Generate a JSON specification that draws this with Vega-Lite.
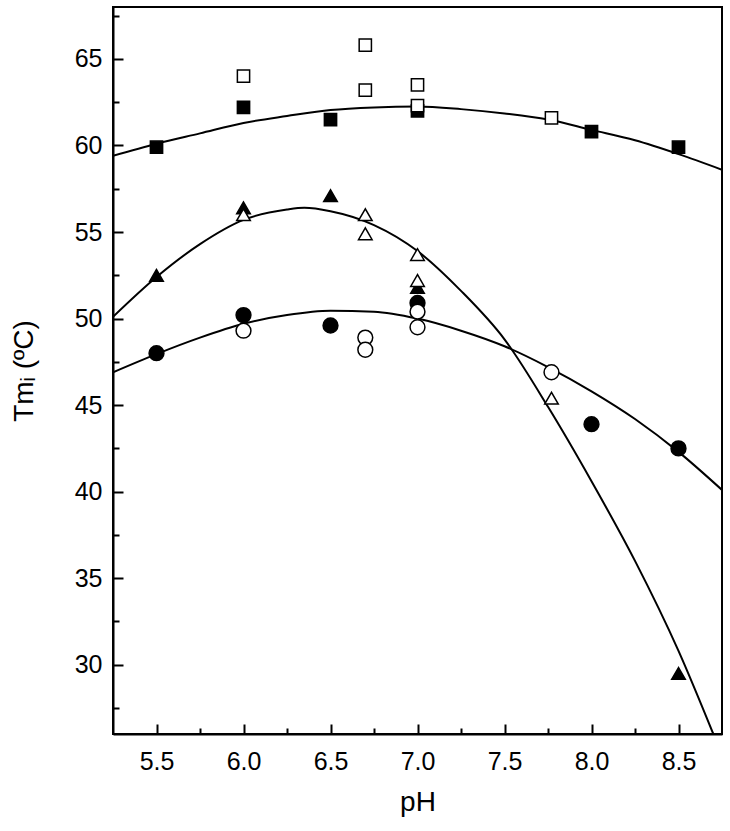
{
  "$schema": "https://vega.github.io/schema/vega-lite/v6.json",
  "width": 609,
  "height": 727,
  "autosize": "none",
  "padding": {"left": 113, "top": 7, "right": 8, "bottom": 97},
  "background": "white",
  "config": {
    "view": {"stroke": "black", "strokeWidth": 2},
    "font": "Liberation Sans",
    "axis": {"grid": false, "domainColor": "black", "domainWidth": 2, "tickColor": "black", "tickWidth": 2, "labelColor": "black", "titleColor": "black", "labelFont": "Liberation Sans", "titleFont": "Liberation Sans", "titleFontWeight": "normal"}
  },
  "datasets": {
    "points": [
      {"pH": 5.5, "Tm": 59.9, "series": "A", "state": "filled"},
      {"pH": 6.0, "Tm": 62.2, "series": "A", "state": "filled"},
      {"pH": 6.5, "Tm": 61.5, "series": "A", "state": "filled"},
      {"pH": 7.0, "Tm": 62.0, "series": "A", "state": "filled"},
      {"pH": 8.0, "Tm": 60.8, "series": "A", "state": "filled"},
      {"pH": 8.5, "Tm": 59.9, "series": "A", "state": "filled"},
      {"pH": 6.0, "Tm": 64.0, "series": "A", "state": "open"},
      {"pH": 6.7, "Tm": 65.8, "series": "A", "state": "open"},
      {"pH": 6.7, "Tm": 63.2, "series": "A", "state": "open"},
      {"pH": 7.0, "Tm": 63.5, "series": "A", "state": "open"},
      {"pH": 7.0, "Tm": 62.3, "series": "A", "state": "open"},
      {"pH": 7.77, "Tm": 61.6, "series": "A", "state": "open"},
      {"pH": 5.5, "Tm": 52.5, "series": "B", "state": "filled"},
      {"pH": 6.0, "Tm": 56.4, "series": "B", "state": "filled"},
      {"pH": 6.5, "Tm": 57.1, "series": "B", "state": "filled"},
      {"pH": 7.0, "Tm": 51.8, "series": "B", "state": "filled"},
      {"pH": 8.5, "Tm": 29.5, "series": "B", "state": "filled"},
      {"pH": 6.0, "Tm": 56.0, "series": "B", "state": "open"},
      {"pH": 6.7, "Tm": 56.0, "series": "B", "state": "open"},
      {"pH": 6.7, "Tm": 54.9, "series": "B", "state": "open"},
      {"pH": 7.0, "Tm": 53.7, "series": "B", "state": "open"},
      {"pH": 7.0, "Tm": 52.2, "series": "B", "state": "open"},
      {"pH": 7.77, "Tm": 45.4, "series": "B", "state": "open"},
      {"pH": 5.5, "Tm": 48.0, "series": "C", "state": "filled"},
      {"pH": 6.0, "Tm": 50.2, "series": "C", "state": "filled"},
      {"pH": 6.5, "Tm": 49.6, "series": "C", "state": "filled"},
      {"pH": 7.0, "Tm": 50.9, "series": "C", "state": "filled"},
      {"pH": 8.0, "Tm": 43.9, "series": "C", "state": "filled"},
      {"pH": 8.5, "Tm": 42.5, "series": "C", "state": "filled"},
      {"pH": 6.0, "Tm": 49.3, "series": "C", "state": "open"},
      {"pH": 6.7, "Tm": 48.9, "series": "C", "state": "open"},
      {"pH": 6.7, "Tm": 48.2, "series": "C", "state": "open"},
      {"pH": 7.0, "Tm": 50.4, "series": "C", "state": "open"},
      {"pH": 7.0, "Tm": 49.5, "series": "C", "state": "open"},
      {"pH": 7.77, "Tm": 46.9, "series": "C", "state": "open"}
    ],
    "curves": [
      {"pH": 5.25, "Tm": 59.4, "curve": "A"},
      {"pH": 5.5, "Tm": 60.1, "curve": "A"},
      {"pH": 5.75, "Tm": 60.7, "curve": "A"},
      {"pH": 6.0, "Tm": 61.3, "curve": "A"},
      {"pH": 6.25, "Tm": 61.7, "curve": "A"},
      {"pH": 6.5, "Tm": 62.05, "curve": "A"},
      {"pH": 6.75, "Tm": 62.2, "curve": "A"},
      {"pH": 7.0, "Tm": 62.25, "curve": "A"},
      {"pH": 7.25, "Tm": 62.1, "curve": "A"},
      {"pH": 7.5, "Tm": 61.85, "curve": "A"},
      {"pH": 7.75, "Tm": 61.5, "curve": "A"},
      {"pH": 8.0, "Tm": 60.9, "curve": "A"},
      {"pH": 8.25, "Tm": 60.3, "curve": "A"},
      {"pH": 8.5, "Tm": 59.5, "curve": "A"},
      {"pH": 8.75, "Tm": 58.6, "curve": "A"},
      {"pH": 5.25, "Tm": 50.1, "curve": "B"},
      {"pH": 5.5, "Tm": 52.4, "curve": "B"},
      {"pH": 5.75, "Tm": 54.3, "curve": "B"},
      {"pH": 6.0, "Tm": 55.7, "curve": "B"},
      {"pH": 6.25, "Tm": 56.3, "curve": "B"},
      {"pH": 6.35, "Tm": 56.4, "curve": "B"},
      {"pH": 6.5, "Tm": 56.2, "curve": "B"},
      {"pH": 6.75, "Tm": 55.4, "curve": "B"},
      {"pH": 7.0, "Tm": 53.9, "curve": "B"},
      {"pH": 7.25, "Tm": 51.6, "curve": "B"},
      {"pH": 7.5, "Tm": 48.8, "curve": "B"},
      {"pH": 7.75, "Tm": 44.9, "curve": "B"},
      {"pH": 8.0, "Tm": 40.6, "curve": "B"},
      {"pH": 8.25, "Tm": 36.0, "curve": "B"},
      {"pH": 8.5, "Tm": 30.8, "curve": "B"},
      {"pH": 8.7, "Tm": 26.0, "curve": "B"},
      {"pH": 5.25, "Tm": 46.9, "curve": "C"},
      {"pH": 5.5, "Tm": 47.95, "curve": "C"},
      {"pH": 5.75, "Tm": 48.9, "curve": "C"},
      {"pH": 6.0, "Tm": 49.7, "curve": "C"},
      {"pH": 6.25, "Tm": 50.2, "curve": "C"},
      {"pH": 6.5, "Tm": 50.45, "curve": "C"},
      {"pH": 6.75, "Tm": 50.4, "curve": "C"},
      {"pH": 7.0, "Tm": 50.0, "curve": "C"},
      {"pH": 7.25, "Tm": 49.3, "curve": "C"},
      {"pH": 7.5, "Tm": 48.4, "curve": "C"},
      {"pH": 7.75, "Tm": 47.2, "curve": "C"},
      {"pH": 8.0, "Tm": 45.8, "curve": "C"},
      {"pH": 8.25, "Tm": 44.2, "curve": "C"},
      {"pH": 8.5, "Tm": 42.3, "curve": "C"},
      {"pH": 8.75, "Tm": 40.1, "curve": "C"}
    ]
  },
  "layer": [
    {
      "data": {"name": "curves"},
      "mark": {"type": "line", "color": "black", "strokeWidth": 2, "interpolate": "monotone", "clip": true},
      "encoding": {
        "x": {"field": "pH", "type": "quantitative", "scale": {"domain": [5.25, 8.75], "nice": false, "zero": false},
          "axis": {"title": "pH", "orient": "bottom", "values": [5.5, 6.0, 6.5, 7.0, 7.5, 8.0, 8.5], "format": ".1f", "tickSize": -10, "labelPadding": 25, "labelFontSize": 25, "titleFontSize": 28, "titlePadding": 14, "labelFlush": false}},
        "y": {"field": "Tm", "type": "quantitative", "scale": {"domain": [26, 68], "nice": false, "zero": false},
          "axis": {"title": "Tmᵢ (ºC)", "orient": "left", "values": [30, 35, 40, 45, 50, 55, 60, 65], "tickSize": -10, "labelPadding": 21, "labelFontSize": 25, "titleFontSize": 28, "titlePadding": 36, "labelFlush": false}},
        "detail": {"field": "curve", "type": "nominal"}
      }
    },
    {
      "data": {"name": "points"},
      "mark": {"type": "point", "stroke": "black", "strokeWidth": 1.5, "opacity": 1, "fillOpacity": 1},
      "encoding": {
        "x": {"field": "pH", "type": "quantitative", "axis": {"orient": "bottom", "title": null, "values": [5.75, 6.25, 6.75, 7.25, 7.75, 8.25], "labels": false, "tickSize": -6, "domain": false}},
        "y": {"field": "Tm", "type": "quantitative", "axis": {"orient": "left", "title": null, "values": [27.5, 32.5, 37.5, 42.5, 47.5, 52.5, 57.5, 62.5, 67.5], "labels": false, "tickSize": -6, "domain": false}},
        "shape": {"field": "series", "type": "nominal", "scale": {"domain": ["A", "B", "C"], "range": ["square", "triangle-up", "circle"]}, "legend": null},
        "fill": {"field": "state", "type": "nominal", "scale": {"domain": ["filled", "open"], "range": ["black", "white"]}, "legend": null},
        "size": {"field": "series", "type": "nominal", "scale": {"domain": ["A", "B", "C"], "range": [150, 220, 150]}, "legend": null}
      }
    }
  ],
  "resolve": {"axis": {"x": "independent", "y": "independent"}}
}
